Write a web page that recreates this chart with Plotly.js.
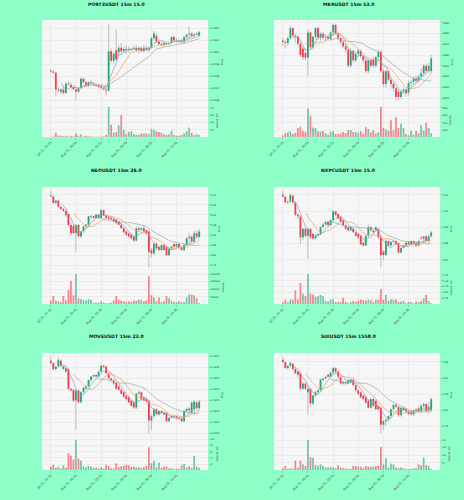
<!DOCTYPE html>
<html><head><meta charset="utf-8">
<script src="https://cdn.plot.ly/plotly-3.0.1.min.js"></script>
<style>html,body{margin:0;padding:0;background:#8fffca;}</style>
</head><body><div id="chart" style="width:464px;height:500px;"></div>
<script>
const xTickIdx = [0, 10, 20, 30, 40, 50];
const xTickText = ['Jul 31, 22:15', 'Aug 01, 00:45', 'Aug 01, 03:15', 'Aug 01, 05:45', 'Aug 01, 08:15', 'Aug 01, 10:45'];
const titles = ['PORT3USDT 15m 15.0', 'MKRUSDT 15m 53.0', 'NEOUSDT 15m 26.0', 'NXPCUSDT 15m 15.0', 'MOVEUSDT 15m 23.0', 'SUIUSDT 15m 1558.0'];

// PORT3USDT
const port3Open = [0.02985,0.02984,0.02983,0.02969,0.02967,0.02969,0.02966,0.02974,0.02973,0.02971, 0.02969,0.02967,0.02970,0.02978,0.02975,0.02972,0.02975,0.02974,0.02973,0.02972, 0.02971,0.02970,0.02969,0.02968,0.03001,0.02993,0.03002,0.03000,0.03004,0.03001, 0.03003,0.03002,0.03002,0.03003,0.03004,0.03002,0.03004,0.03001,0.03004,0.03002, 0.03004,0.03012,0.03014,0.03009,0.03007,0.03006,0.03008,0.03007,0.03008,0.03013, 0.03010,0.03009,0.03010,0.03009,0.03013,0.03015,0.03016,0.03014,0.03015,0.03014];
const port3High = [0.02986,0.02985,0.02984,0.02971,0.02970,0.02972,0.02975,0.02976,0.02975,0.02973, 0.02970,0.02971,0.02979,0.02979,0.02976,0.02976,0.02977,0.02975,0.02974,0.02973, 0.02972,0.02971,0.02970,0.03024,0.03003,0.03000,0.03019,0.03006,0.03008,0.03005, 0.03006,0.03005,0.03004,0.03006,0.03006,0.03005,0.03005,0.03006,0.03006,0.03005, 0.03013,0.03018,0.03016,0.03011,0.03009,0.03009,0.03009,0.03009,0.03014,0.03014, 0.03012,0.03011,0.03011,0.03014,0.03016,0.03022,0.03017,0.03016,0.03017,0.03018];
const port3Low = [0.02983,0.02982,0.02963,0.02966,0.02965,0.02965,0.02965,0.02972,0.02970,0.02968, 0.02960,0.02966,0.02969,0.02974,0.02971,0.02971,0.02973,0.02972,0.02971,0.02970, 0.02969,0.02968,0.02964,0.02967,0.02991,0.02991,0.02993,0.02997,0.02999,0.03000, 0.02999,0.03000,0.03001,0.03002,0.03000,0.02999,0.03000,0.03000,0.03001,0.03000, 0.03003,0.03010,0.03008,0.03006,0.03005,0.03005,0.03006,0.03006,0.03007,0.03009, 0.03008,0.03008,0.03008,0.03007,0.03011,0.03012,0.03013,0.03012,0.03014,0.03013];
const port3Close = [0.02984,0.02983,0.02969,0.02968,0.02969,0.02966,0.02974,0.02973,0.02971,0.02969, 0.02967,0.02970,0.02978,0.02975,0.02972,0.02975,0.02974,0.02973,0.02972,0.02971, 0.02970,0.02969,0.02968,0.03001,0.02993,0.02999,0.02994,0.03004,0.03001,0.03003, 0.03002,0.03003,0.03003,0.03004,0.03002,0.03004,0.03001,0.03004,0.03002,0.03004, 0.03012,0.03016,0.03009,0.03007,0.03006,0.03008,0.03007,0.03008,0.03013,0.03010, 0.03009,0.03010,0.03009,0.03013,0.03015,0.03016,0.03014,0.03015,0.03016,0.03017];
const port3Volume = [0.5,1,6,2,2,1,2,1,2,1, 5,2,4,1,2,1,1,0.5,0.5,0.5, 0.5,1,3,41,17,6,7,16,30,10, 4,7,8,4,3,3,5,5,5,4, 11,10,8,7,6,4,3,4,9,3, 2,2,3,5,8,13,6,3,4,3];

// MKRUSDT
const mkrOpen = [2873.5,2872,2871,2875.6,2885,2878,2877,2870.5,2866,2862, 2857.5,2881,2867,2877,2885,2876,2880,2876,2877,2875, 2881,2888,2880,2876,2872,2868,2865,2850,2864,2855, 2861,2864,2859,2855,2845,2855,2856,2850,2858,2863, 2845,2833,2845,2837,2833,2829,2826,2821,2826,2828, 2825,2834,2835,2838,2836,2840,2843,2850,2845,2845];
const mkrHigh = [2876,2874,2877,2887,2886,2880,2878,2872,2868,2866, 2884,2882,2878,2886,2886,2881,2882,2878,2879,2882, 2889,2889,2881,2877,2874,2870,2867,2866,2865,2863, 2866,2865,2860,2857,2856,2857,2858,2859,2865,2865, 2847,2846,2846,2839,2835,2830,2828,2828,2830,2830, 2836,2837,2840,2841,2842,2848,2852,2852,2853,2860];
const mkrLow = [2868,2866,2869,2874,2876,2872,2868,2858,2855,2855, 2841,2866,2865,2875,2874,2873,2874,2872,2873,2873, 2879,2879,2874,2870,2866,2862,2848,2848,2853,2853, 2859,2857,2852,2843,2843,2848,2848,2848,2856,2844, 2830,2830,2835,2830,2826,2818,2818,2819,2824,2821, 2822,2830,2832,2833,2834,2838,2840,2843,2843,2843];
const mkrClose = [2872,2871,2875.6,2885,2878,2877,2870.5,2860,2858,2857.5, 2881,2867,2877,2885,2876,2880,2876,2877,2875,2881, 2888,2880,2876,2872,2868,2865,2850,2864,2855,2861, 2864,2859,2855,2845,2855,2850,2850,2858,2863,2845, 2833,2845,2837,2833,2829,2821,2821,2826,2828,2825, 2834,2835,2838,2836,2840,2843,2850,2845,2850,2857];
const mkrVolume = [60,120,150,170,100,130,260,290,180,150, 780,580,270,260,170,160,180,120,80,160, 170,100,90,110,150,120,200,210,150,150, 130,170,100,280,230,140,200,110,150,820, 260,220,180,470,200,550,260,370,260,100, 60,180,80,180,120,340,190,400,260,120];

// NEOUSDT
const neoOpen = [6.098,6.092,6.060,6.072,6.040,6.030,6.020,6.005,5.950,5.945, 5.910,5.950,5.893,5.918,5.943,5.951,5.990,5.994,5.985,6.002, 5.985,6.024,5.997,5.990,5.985,5.980,5.977,5.968,5.951,5.934, 5.918,5.909,5.901,5.892,5.872,5.934,5.926,5.934,5.926,5.918, 5.825,5.808,5.858,5.842,5.825,5.850,5.842,5.799,5.833,5.855, 5.842,5.855,5.838,5.825,5.850,5.884,5.892,5.867,5.909,5.890];
const neoHigh = [6.120,6.095,6.075,6.075,6.045,6.035,6.025,6.010,5.965,5.955, 5.955,5.955,5.920,5.945,5.955,5.995,6.000,5.998,6.005,6.008, 6.028,6.026,6.000,5.995,5.990,5.985,5.980,5.972,5.960,5.940, 5.922,5.912,5.905,5.895,5.940,5.945,5.940,5.950,5.930,5.925, 5.835,5.862,5.865,5.848,5.855,5.855,5.845,5.840,5.845,5.860, 5.860,5.858,5.842,5.855,5.890,5.910,5.900,5.920,5.925,5.930];
const neoLow = [6.090,6.055,6.055,6.035,6.025,6.015,5.990,5.940,5.900,5.905, 5.815,5.890,5.885,5.910,5.935,5.945,5.980,5.982,5.980,5.982, 5.982,5.993,5.980,5.978,5.972,5.965,5.955,5.948,5.930,5.908, 5.895,5.888,5.878,5.868,5.868,5.920,5.920,5.915,5.905,5.740, 5.790,5.800,5.828,5.820,5.815,5.820,5.795,5.795,5.828,5.835, 5.838,5.835,5.820,5.820,5.845,5.860,5.860,5.860,5.885,5.885];
const neoClose = [6.092,6.060,6.072,6.040,6.030,6.020,5.998,5.950,5.910,5.910, 5.950,5.893,5.918,5.943,5.951,5.994,5.994,5.985,6.002,5.985, 6.024,5.997,5.985,5.980,5.977,5.968,5.960,5.951,5.934,5.913, 5.901,5.892,5.884,5.872,5.934,5.926,5.934,5.918,5.909,5.816, 5.808,5.858,5.833,5.825,5.850,5.825,5.799,5.833,5.842,5.842, 5.855,5.838,5.825,5.850,5.884,5.892,5.867,5.909,5.892,5.918];
const neoVolume = [25000,55000,25000,20000,15000,55000,25000,95000,155000,60000, 200000,40000,35000,30000,25000,35000,30000,10000,10000,10000, 20000,12000,8000,8000,10000,25000,55000,30000,25000,20000, 15000,20000,15000,25000,25000,30000,30000,20000,25000,185000, 60000,45000,20000,45000,15000,20000,55000,40000,25000,15000, 15000,20000,15000,15000,45000,65000,65000,60000,40000,8000];

// NXPCUSDT
const nxpcOpen = [0.9102,0.9089,0.9053,0.9059,0.9095,0.9053,0.8977,0.8967,0.8838,0.8891, 0.8848,0.8891,0.8859,0.8831,0.8848,0.8859,0.8902,0.8917,0.8934,0.8913, 0.8945,0.8999,0.8982,0.8967,0.8945,0.8913,0.8902,0.8881,0.8891,0.8870, 0.8859,0.8848,0.8805,0.8788,0.8848,0.8902,0.8881,0.8881,0.8891,0.8838, 0.8752,0.8730,0.8816,0.8788,0.8810,0.8816,0.8805,0.8745,0.8773,0.8788, 0.8810,0.8795,0.8816,0.8805,0.8788,0.8838,0.8830,0.8845,0.8816,0.8845];
const nxpcHigh = [0.9125,0.9095,0.9065,0.9110,0.9105,0.9060,0.8990,0.8975,0.8895,0.8900, 0.8895,0.8895,0.8865,0.8855,0.8862,0.8905,0.8925,0.8940,0.8940,0.8950, 0.9005,0.9003,0.8988,0.8970,0.8950,0.8918,0.8906,0.8908,0.8895,0.8875, 0.8865,0.8852,0.8810,0.8852,0.8920,0.8908,0.8885,0.8905,0.8898,0.8845, 0.8760,0.8825,0.8822,0.8815,0.8825,0.8820,0.8810,0.8780,0.8795,0.8810, 0.8815,0.8820,0.8820,0.8810,0.8825,0.8845,0.8850,0.8855,0.8860,0.8880];
const nxpcLow = [0.9085,0.9050,0.9040,0.9050,0.9045,0.8970,0.8950,0.8795,0.8820,0.8840, 0.8709,0.8830,0.8825,0.8825,0.8840,0.8850,0.8895,0.8910,0.8908,0.8905, 0.8940,0.8970,0.8950,0.8930,0.8910,0.8885,0.8875,0.8875,0.8865,0.8842, 0.8830,0.8790,0.8780,0.8785,0.8840,0.8875,0.8865,0.8875,0.8830,0.8655, 0.8700,0.8725,0.8780,0.8782,0.8805,0.8790,0.8740,0.8740,0.8770,0.8785, 0.8790,0.8790,0.8795,0.8780,0.8782,0.8825,0.8800,0.8815,0.8800,0.8840];
const nxpcClose = [0.9089,0.9053,0.9059,0.9100,0.9053,0.8977,0.8967,0.8838,0.8891,0.8848, 0.8891,0.8838,0.8831,0.8848,0.8859,0.8902,0.8917,0.8934,0.8913,0.8945, 0.8999,0.8977,0.8955,0.8934,0.8913,0.8891,0.8881,0.8902,0.8870,0.8848, 0.8838,0.8795,0.8788,0.8848,0.8902,0.8881,0.8870,0.8902,0.8838,0.8730, 0.8730,0.8816,0.8788,0.8810,0.8816,0.8795,0.8745,0.8773,0.8788,0.8805, 0.8795,0.8816,0.8802,0.8788,0.8816,0.8830,0.8845,0.8816,0.8845,0.8870];
const nxpcVolume = [0.10,0.20,0.10,0.20,0.20,0.60,0.20,0.90,0.45,0.35, 1.28,0.45,0.42,0.33,0.35,0.40,0.35,0.15,0.12,0.20, 0.22,0.10,0.10,0.10,0.28,0.10,0.05,0.10,0.15,0.10, 0.15,0.20,0.18,0.15,0.20,0.18,0.10,0.20,0.20,0.65, 0.20,0.40,0.15,0.22,0.20,0.20,0.10,0.12,0.15,0.05, 0.10,0.10,0.05,0.12,0.10,0.15,0.25,0.40,0.15,0.05];

// MOVEUSDT
const moveOpen = [0.13380,0.13369,0.13341,0.13353,0.13380,0.13341,0.13345,0.13341,0.13252,0.13247, 0.13198,0.13244,0.13190,0.13236,0.13252,0.13263,0.13291,0.13307,0.13314,0.13307, 0.13330,0.13356,0.13353,0.13322,0.13299,0.13291,0.13278,0.13263,0.13247,0.13236, 0.13221,0.13213,0.13198,0.13190,0.13166,0.13229,0.13236,0.13213,0.13205,0.13198, 0.13107,0.13127,0.13159,0.13135,0.13151,0.13143,0.13143,0.13104,0.13120,0.13127, 0.13127,0.13120,0.13117,0.13104,0.13151,0.13163,0.13143,0.13159,0.13190,0.13163];
const moveHigh = [0.13397,0.13372,0.13356,0.13392,0.13386,0.13356,0.13350,0.13345,0.13258,0.13252, 0.13250,0.13250,0.13240,0.13260,0.13268,0.13295,0.13310,0.13318,0.13318,0.13335, 0.13362,0.13362,0.13355,0.13326,0.13302,0.13295,0.13282,0.13268,0.13252,0.13240, 0.13225,0.13216,0.13200,0.13194,0.13235,0.13245,0.13240,0.13218,0.13208,0.13200, 0.13135,0.13165,0.13163,0.13155,0.13155,0.13148,0.13146,0.13125,0.13130,0.13130, 0.13130,0.13125,0.13120,0.13155,0.13165,0.13170,0.13195,0.13200,0.13195,0.13200];
const moveLow = [0.13365,0.13335,0.13335,0.13348,0.13350,0.13336,0.13325,0.13245,0.13240,0.13190, 0.13065,0.13185,0.13185,0.13230,0.13245,0.13258,0.13285,0.13300,0.13300,0.13303, 0.13325,0.13345,0.13318,0.13295,0.13285,0.13270,0.13248,0.13240,0.13225,0.13210, 0.13200,0.13185,0.13170,0.13160,0.13160,0.13225,0.13200,0.13195,0.13185,0.13050, 0.13065,0.13120,0.13130,0.13130,0.13138,0.13130,0.13098,0.13100,0.13115,0.13115, 0.13112,0.13110,0.13098,0.13100,0.13145,0.13140,0.13135,0.13130,0.13155,0.13150];
const moveClose = [0.13369,0.13341,0.13353,0.13384,0.13356,0.13353,0.13330,0.13252,0.13244,0.13198, 0.13244,0.13190,0.13236,0.13257,0.13263,0.13291,0.13307,0.13314,0.13307,0.13330, 0.13356,0.13350,0.13322,0.13299,0.13291,0.13275,0.13252,0.13247,0.13229,0.13216, 0.13205,0.13190,0.13174,0.13166,0.13229,0.13236,0.13205,0.13198,0.13194,0.13107, 0.13127,0.13159,0.13135,0.13151,0.13143,0.13135,0.13104,0.13120,0.13127,0.13122, 0.13120,0.13117,0.13104,0.13151,0.13159,0.13154,0.13190,0.13194,0.13163,0.13194];
const moveVolume = [1.2,1.8,0.8,1.2,0.6,1.6,0.8,5.5,4.8,3.5, 9.8,3.8,3.2,1.3,1.0,1.5,1.2,0.8,0.8,0.5, 1.0,0.6,1.8,1.4,0.6,0.5,2.2,1.0,1.3,1.5, 1.8,1.6,1.1,1.2,1.0,1.0,0.8,1.0,1.5,7.5, 2.3,3.2,1.0,2.5,0.8,1.2,1.2,0.6,0.8,0.3, 0.5,0.4,1.6,2.0,1.0,1.3,0.8,4.7,1.2,0.8];

// SUIUSDT
const suiOpen = [3.657,3.650,3.631,3.638,3.644,3.628,3.620,3.615,3.567,3.583, 3.555,3.567,3.521,3.546,3.556,3.562,3.594,3.599,3.610,3.604, 3.617,3.631,3.620,3.604,3.583,3.588,3.583,3.588,3.594,3.578, 3.562,3.556,3.546,3.540,3.530,3.508,3.535,3.530,3.514,3.508, 3.455,3.466,3.471,3.482,3.503,3.517,3.511,3.485,3.508,3.503, 3.498,3.493,3.487,3.498,3.506,3.498,3.514,3.519,3.500,3.500];
const suiHigh = [3.666,3.652,3.640,3.650,3.648,3.632,3.622,3.620,3.588,3.586, 3.575,3.570,3.548,3.560,3.566,3.598,3.602,3.608,3.615,3.620, 3.635,3.634,3.624,3.608,3.590,3.592,3.596,3.598,3.598,3.580, 3.566,3.560,3.550,3.544,3.534,3.538,3.540,3.533,3.518,3.512, 3.470,3.475,3.485,3.506,3.520,3.520,3.514,3.510,3.512,3.506, 3.500,3.496,3.500,3.506,3.515,3.520,3.524,3.522,3.525,3.540];
const suiLow = [3.648,3.628,3.625,3.632,3.625,3.612,3.600,3.560,3.562,3.562, 3.487,3.510,3.515,3.540,3.550,3.558,3.590,3.595,3.600,3.600, 3.612,3.615,3.600,3.580,3.580,3.578,3.580,3.585,3.575,3.558, 3.548,3.536,3.530,3.520,3.505,3.505,3.510,3.500,3.498,3.429, 3.440,3.450,3.465,3.478,3.498,3.508,3.480,3.480,3.498,3.490, 3.485,3.484,3.482,3.494,3.495,3.490,3.505,3.495,3.490,3.495];
const suiClose = [3.650,3.631,3.638,3.647,3.628,3.615,3.610,3.567,3.583,3.567, 3.567,3.521,3.546,3.556,3.562,3.596,3.599,3.604,3.604,3.617, 3.631,3.620,3.604,3.583,3.588,3.583,3.594,3.596,3.578,3.562, 3.551,3.540,3.535,3.524,3.508,3.535,3.514,3.503,3.503,3.455, 3.466,3.471,3.482,3.503,3.517,3.511,3.485,3.508,3.500,3.496, 3.489,3.487,3.498,3.503,3.498,3.514,3.519,3.498,3.510,3.535];
const suiVolume = [1.5,3,1,1.5,1,6.5,2,6.5,4,3, 20,8.7,8.3,3.5,3,4,3,2,2,2.5, 2,1.5,3.5,2,1.5,1.5,1,1,3,3, 2.5,2.5,1.5,3,2.5,2.5,2.5,3,3,15.5, 4,8,2,4.5,4,2,1.5,2,1.5,1, 1,1,1.5,1.5,4,3.5,8.5,3.5,3,1];

const panels = [
  {o: port3Open, h: port3High, l: port3Low, c: port3Close, v: port3Volume, pd: 0.0001, pf: '.4f', vd: 10, vf: 'd', vt: 'Volume  10\u2076'},
  {o: mkrOpen, h: mkrHigh, l: mkrLow, c: mkrClose, v: mkrVolume, pd: 10, pf: 'd', vd: 200, vf: 'd', vt: 'Volume'},
  {o: neoOpen, h: neoHigh, l: neoLow, c: neoClose, v: neoVolume, pd: 0.05, pf: '.2f', vd: 50000, vf: 'd', vt: 'Volume'},
  {o: nxpcOpen, h: nxpcHigh, l: nxpcLow, c: nxpcClose, v: nxpcVolume, pd: 0.01, pf: '.2f', vd: 0.25, vf: '.2f', vt: 'Volume  10\u2076'},
  {o: moveOpen, h: moveHigh, l: moveLow, c: moveClose, v: moveVolume, pd: 0.0005, pf: '.4f', vd: 2, vf: 'd', vt: 'Volume  10\u2076'},
  {o: suiOpen, h: suiHigh, l: suiLow, c: suiClose, v: suiVolume, pd: 0.05, pf: '.2f', vd: 5, vf: 'd', vt: 'Volume  10\u2075'}
];

const W = 464, H = 500;
const UP = '#1da678', DOWN = '#f03c49';
const UPV = 'rgba(29,166,120,0.6)', DOWNV = 'rgba(240,60,73,0.6)';
const WICK = '#9a9a9a';
const MAV = [5, 10, 20];
const MAVC = ['#7aa6c6', '#f1a25c', '#93aeac'];
const colX = [[42, 208], [274, 440]];
const rowTop = [20, 187, 353];
const titleY = [4, 170, 336];
const FONT = 'DejaVu Sans, sans-serif';

function sma(a, n) {
  return a.map((_, i) => {
    if (i < n - 1) return null;
    let s = 0; for (let j = i - n + 1; j <= i; j++) s += a[j];
    return s / n;
  });
}

const traces = [];
const layout = {
  width: W, height: H, margin: {l: 0, r: 0, t: 0, b: 0},
  paper_bgcolor: '#8fffca', plot_bgcolor: '#f6f6f6',
  showlegend: false, barmode: 'overlay',
  font: {family: FONT, color: '#333'},
  annotations: []
};

panels.forEach((p, k) => {
  const col = k % 2, row = Math.floor(k / 2);
  const xa = 'x' + (k + 1), ya = 'y' + (2 * k + 1), yv = 'y' + (2 * k + 2);
  const n = p.c.length;
  const idx = p.c.map((_, i) => i);
  const up = p.c.map((c, i) => c >= p.o[i]);
  const maxH = Math.max(...p.h), minL = Math.min(...p.l);
  const span = maxH - minL;
  const wx = [], wy = [];
  for (let i = 0; i < n; i++) {
    const lo = Math.min(p.o[i], p.c[i]), hi = Math.max(p.o[i], p.c[i]);
    wx.push(i, i, null, i, i, null);
    wy.push(p.l[i], lo, null, hi, p.h[i], null);
  }
  traces.push({type: 'scatter', mode: 'lines', x: wx, y: wy, xaxis: xa, yaxis: ya,
    line: {color: WICK, width: 0.6}, hoverinfo: 'skip'});
  traces.push({type: 'bar', x: idx, xaxis: xa, yaxis: ya,
    base: p.c.map((c, i) => Math.min(c, p.o[i])),
    y: p.c.map((c, i) => Math.max(Math.abs(c - p.o[i]), span * 0.006)),
    width: 0.72, marker: {color: up.map(u => u ? UP : DOWN), line: {width: 0}}, hoverinfo: 'skip'});
  MAV.forEach((m, j) => {
    traces.push({type: 'scatter', mode: 'lines', x: idx, y: sma(p.c, m), xaxis: xa, yaxis: ya,
      line: {color: MAVC[j], width: 0.7}, hoverinfo: 'skip'});
  });
  traces.push({type: 'bar', x: idx, y: p.v, xaxis: xa, yaxis: yv, width: 0.7,
    marker: {color: up.map(u => u ? UPV : DOWNV), line: {width: 0}}, hoverinfo: 'skip'});

  const top = rowTop[row];
  const xDom = [colX[col][0] / W, colX[col][1] / W];
  layout['xaxis' + (k + 1)] = {
    domain: xDom, anchor: yv, range: [-3.5, 62.5],
    tickvals: xTickIdx, ticktext: xTickText, tickangle: -45,
    tickfont: {size: 3, family: FONT, color: '#333'},
    ticks: 'outside', ticklen: 1.5, tickcolor: '#888', tickwidth: 0.4,
    showgrid: true, gridcolor: '#e2e2e2', gridwidth: 0.5, zeroline: false, showline: false
  };
  layout['yaxis' + (2 * k + 1)] = {
    domain: [1 - (top + 84) / H, 1 - top / H], anchor: xa, side: 'right',
    range: [minL - span * 0.05, maxH + span * 0.05], dtick: p.pd, tickformat: p.pf,
    tickfont: {size: 2.4, family: FONT, color: '#333'},
    ticks: 'outside', ticklen: 1.5, tickcolor: '#888', tickwidth: 0.4,
    showgrid: true, gridcolor: '#e2e2e2', gridwidth: 0.5, zeroline: false,
    title: {text: 'Price', font: {size: 2.6, family: FONT, color: '#333'}, standoff: 2}
  };
  const vmin = Math.min(...p.v), vmax = Math.max(...p.v);
  layout['yaxis' + (2 * k + 2)] = {
    domain: [1 - (top + 117) / H, 1 - (top + 84) / H], anchor: xa, side: 'right',
    range: [0.3 * vmin, 1.1 * vmax], dtick: p.vd, tickformat: p.vf,
    tickfont: {size: 2.4, family: FONT, color: '#333'},
    ticks: 'outside', ticklen: 1.5, tickcolor: '#888', tickwidth: 0.4,
    showgrid: true, gridcolor: '#e2e2e2', gridwidth: 0.5, zeroline: false,
    title: {text: p.vt, font: {size: 2.6, family: FONT, color: '#333'}, standoff: 2}
  };
  layout.annotations.push({
    text: '<b>' + titles[k] + '</b>', xref: 'paper', yref: 'paper',
    x: (col * 232 + 116) / W, y: 1 - titleY[row] / H, xanchor: 'center', yanchor: 'middle',
    showarrow: false, font: {size: 4.6, family: FONT, color: '#111'}
  });
});

Plotly.newPlot('chart', traces, layout, {staticPlot: true, displayModeBar: false});
</script>
</body></html>
